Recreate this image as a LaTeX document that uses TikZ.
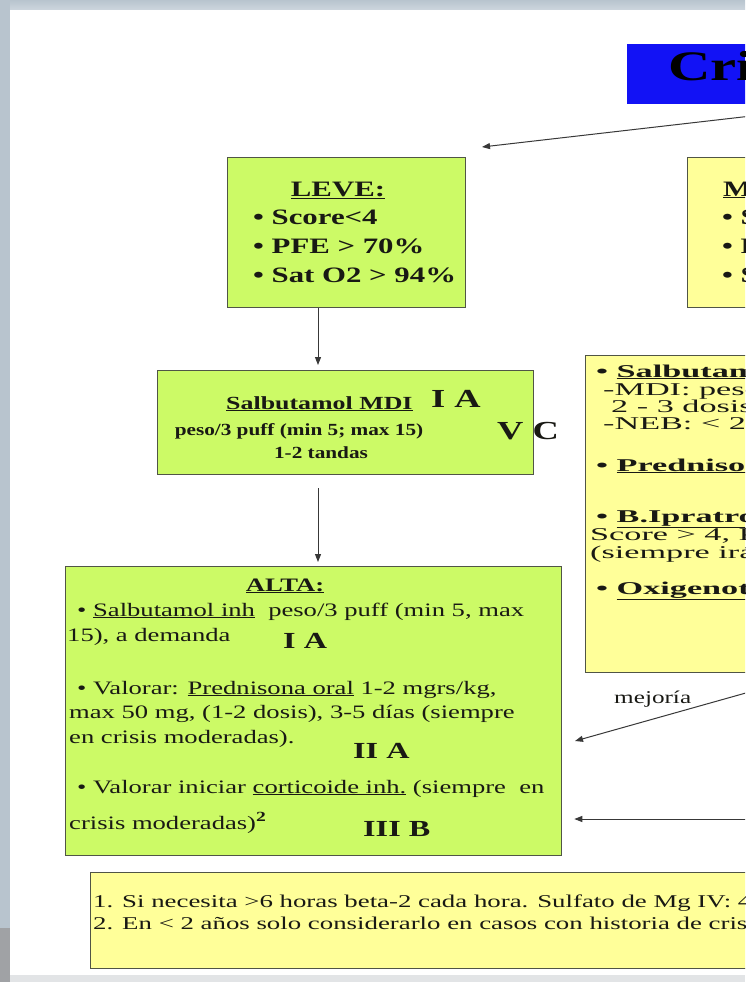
\documentclass[tikz,border=0pt]{standalone}
\usepackage{fontspec}
\setmainfont{Liberation Serif}
\newfontfamily\fL[FakeStretch=1.4]{Liberation Serif}
\newfontfamily\fM[FakeStretch=1.25]{Liberation Serif}
\newfontfamily\fY[FakeStretch=1.9]{Liberation Serif}
\newfontfamily\fF[FakeStretch=1.49]{Liberation Serif}
\usetikzlibrary{arrows.meta}
\definecolor{lgreen}{RGB}{204,250,102}
\definecolor{lyellow}{RGB}{255,255,153}
\definecolor{tblue}{RGB}{18,18,245}
\definecolor{edge}{RGB}{80,85,70}
\definecolor{bgside}{RGB}{184,196,206}
\definecolor{bgtop}{RGB}{205,214,222}
\definecolor{bgdark}{RGB}{160,162,165}
\definecolor{bgbot}{RGB}{226,228,230}
\definecolor{txt}{RGB}{25,25,20}
\newcommand\fsz[2]{\fontsize{#1}{#2}\selectfont}
\begin{document}
\begin{tikzpicture}[x=1pt,y=-1pt,
  box/.style={draw=edge,line width=1.3pt,inner sep=0pt,anchor=north west},
  gbox/.style={box,fill=lgreen},
  ybox/.style={box,fill=lyellow},
  t/.style={inner sep=0pt,anchor=base west,text=txt},
  tc/.style={inner sep=0pt,anchor=base,text=txt},
  arr/.style={draw=black!78,line width=1pt,-{Triangle[length=8pt,width=6pt]}}]
\useasboundingbox (0,0) rectangle (745,982);
\clip (0,0) rectangle (745,982);
% background
\fill[bgside] (0,0) rectangle (745,982);
\shade[top color=bgside, bottom color=bgtop] (10,0) rectangle (745,10);
\fill[white] (10,10) rectangle (745,975);
\fill[bgbot] (10,975) rectangle (745,982);
\fill[bgdark] (0,928) rectangle (10,982);

% boxes
\node[box,fill=tblue,draw=none,minimum width=140pt,minimum height=60pt] (title) at (626,43) {};
\node[gbox,minimum width=238pt,minimum height=150pt] (leve) at (227,157) {};
\node[ybox,minimum width=100pt,minimum height=150pt] (mod) at (687,157) {};
\node[gbox,minimum width=376pt,minimum height=104pt] (salb) at (157,370) {};
\node[ybox,minimum width=200pt,minimum height=317pt] (trat) at (585,355) {};
\node[gbox,minimum width=496pt,minimum height=289pt] (alta) at (65,566) {};
\node[ybox,minimum width=700pt,minimum height=96pt] (nota) at (90,872) {};

% title
\node[t,text=black] (titleT) at (668,81) {\fsz{42}{46}\fL\bfseries Cri};

% connectors
\coordinate (ax) at (318,0);
\coordinate (tsrc) at (760,115);
\coordinate (ttip) at (482,147);
\draw[arr] (tsrc) -- (ttip);
\draw[arr,shorten >=5pt] (leve.south -| ax) -- (salb.north -| ax);
\draw[arr,shorten <=13pt,shorten >=4pt] (salb.south -| ax) -- (alta.north -| ax);
\coordinate (m1) at (760,689);
\coordinate (m2) at (575,741);
\draw[arr] (m1) -- (m2);
\coordinate (h1) at (760,819);
\draw[arr,shorten >=12pt] (h1) -- (alta.east |- h1);

% LEVE
\node[tc] (leve0) at (338,196) {\fsz{22}{26}\fL\bfseries\underline{LEVE:}};
\node[t] (leve1) at (253,224) {\fsz{22}{26}\fL\bfseries • Score<4};
\node[t] (leve2) at (253,253) {\fsz{22}{26}\fL\bfseries • PFE > 70\%};
\node[t] (leve3) at (253,282) {\fsz{22}{26}\fL\bfseries • Sat O2 > 94\%};

% MODERADA (cut)
\node[t] (mod0) at (723,196) {\fsz{22}{26}\fL\bfseries\underline{MO}};
\node[t] (mod1) at (722,224) {\fsz{22}{26}\fL\bfseries • Sc};
\node[t] (mod2) at (722,253) {\fsz{22}{26}\fL\bfseries • PF};
\node[t] (mod3) at (722,282) {\fsz{22}{26}\fL\bfseries • Sa};

% Salbutamol MDI
\node[t] (s1) at (226,409) {\fsz{18.5}{22}\fL\bfseries\underline{Salbutamol MDI}};
\node[t] (s1b) at (431,407) {\fsz{26}{28}\fL\bfseries I A};
\node[tc] (s2) at (299,435) {\fsz{17}{20}\fM\bfseries peso/3 puff (min 5; max 15)};
\node[tc] (s3) at (321,458) {\fsz{17}{20}\fM\bfseries 1-2 tandas};
\node[t] (vc) at (497,439) {\fsz{26}{28}\fL\bfseries V C};

% right yellow box (cut)
\node[t] (r1) at (596,377) {\fsz{18}{18}\fY\bfseries • \underline{Salbutamol}};
\node[t] (r2) at (603,395) {\fsz{18}{18}\fY -MDI: peso};
\node[t] (r3) at (611,412) {\fsz{18}{18}\fY 2 - 3 dosis};
\node[t] (r4) at (603,429) {\fsz{18}{18}\fY -NEB: < 20};
\node[t] (r5) at (596,471) {\fsz{18}{18}\fY\bfseries • \underline{Prednisona}};
\node[t] (r6) at (596,522) {\fsz{18}{18}\fY\bfseries • \underline{B.Ipratropio}};
\node[t] (r7) at (590,540) {\fsz{18}{18}\fY Score > 4, PF};
\node[t] (r8) at (590,558) {\fsz{18}{18}\fY (siempre irán};
\node[t] (r9) at (596,594) {\fsz{18}{18}\fY\bfseries • \underline{Oxigenoter}};

\node[t] (mej) at (614,703) {\fsz{18}{20}\fL mejoría};

% ALTA
\node[tc] (a0) at (285,591) {\fsz{19}{22}\fL\bfseries\underline{ALTA:}};
\node[t] (a1) at (77,616) {\fsz{19}{22}\fL • \underline{Salbutamol inh}\ \ peso/3 puff (min 5, max};
\node[t] (a2) at (67,641) {\fsz{19}{22}\fL 15), a demanda};
\node[t] (a2b) at (283,648) {\fsz{23}{26}\fL\bfseries I A};
\node[t] (a3) at (77,694) {\fsz{19}{22}\fL • Valorar: \underline{Prednisona oral} 1-2 mgrs/kg,};
\node[t] (a4) at (69,718) {\fsz{19}{22}\fL max 50 mg, (1-2 dosis), 3-5 días (siempre};
\node[t] (a5) at (69,743) {\fsz{19}{22}\fL en crisis moderadas).};
\node[t] (a5b) at (353,758) {\fsz{23}{26}\fL\bfseries II A};
\node[t] (a6) at (77,793) {\fsz{19}{22}\fL • Valorar iniciar \underline{corticoide inh.} (siempre\ \ en};
\node[t] (a7) at (69,829) {\fsz{19}{22}\fL crisis moderadas)\raisebox{8pt}{\fsz{14}{14}\bfseries 2}};
\node[t] (a7b) at (363,836) {\fsz{23}{26}\fL\bfseries III B};

% footnote
\node[t] (n1) at (93,907) {\fsz{18}{20}\fF 1. Si necesita >6 horas beta-2 cada hora. Sulfato de Mg IV: 4};
\node[t] (n2) at (93,929) {\fsz{18}{20}\fF 2. En < 2 años solo considerarlo en casos con historia de crisis};
\end{tikzpicture}
\end{document}
